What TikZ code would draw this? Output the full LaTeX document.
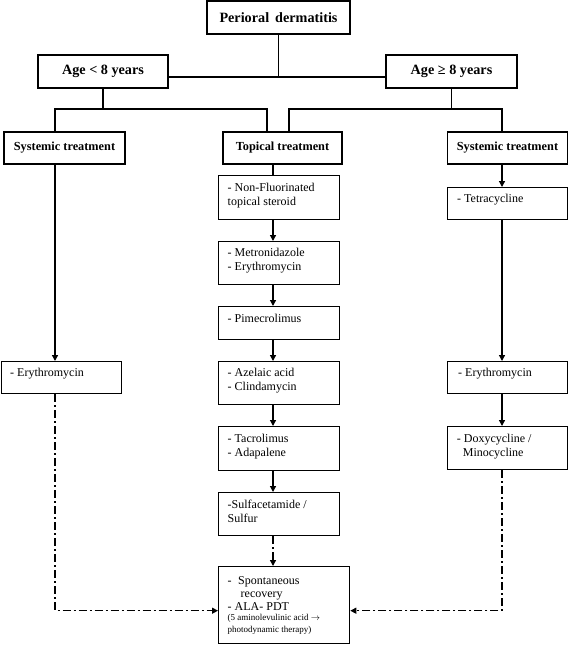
\documentclass[tikz,border=0pt]{standalone}
\usepackage{fontspec}
\setmainfont{Liberation Serif}
\usetikzlibrary{arrows.meta}
\begin{document}
\begin{tikzpicture}[x=1pt,y=-1pt,
  box/.style={draw, line width=1.3pt, inner sep=0pt},
  hbig/.style={box, font=\bfseries\fontsize{14.2}{16}\selectfont},
  hsm/.style={box, font=\bfseries\fontsize{12.3}{14}\selectfont},
  txt/.style={inner sep=0pt, align=left, anchor=base west, font=\fontsize{12}{14}\selectfont},
  tsmall/.style={inner sep=0pt, align=left, anchor=base west, font=\fontsize{9}{11.5}\selectfont},
  ln/.style={line width=1.3pt},
  arr/.style={ln, -{Triangle[length=6pt,width=6pt]}},
  dd/.style={arr, dash pattern=on 8pt off 3pt on 2pt off 3pt}]
\useasboundingbox (0,0) rectangle (568,645);
% header boxes
\node[hbig, minimum width=143pt, minimum height=33pt] (title) at (278.5,17.5) {Perioral\hspace{6pt}dermatitis};
\node[hbig, minimum width=130pt, minimum height=33pt] (age1) at (103,71.5) {Age < 8 years};
\node[hbig, minimum width=131pt, minimum height=33pt] (age2) at (451.5,71.5) {Age ≥ 8 years};
\node[hsm, minimum width=121pt, minimum height=32pt] (sysL) at (64.5,148) {Systemic treatment};
\node[hsm, minimum width=119pt, minimum height=32pt] (top) at (282.5,148) {Topical treatment};
\node[hsm, minimum width=120pt, minimum height=32pt] (sysR) at (507.5,148) {Systemic treatment};
% middle column boxes
\node[box, minimum width=121pt, minimum height=44pt, anchor=north west] (nf) at (218,175) {};
\node[box, minimum width=121pt, minimum height=43pt, anchor=north west] (met) at (218,241) {};
\node[box, minimum width=121pt, minimum height=33pt, anchor=north west] (pim) at (218,306) {};
\node[box, minimum width=121pt, minimum height=43pt, anchor=north west] (aze) at (218,361) {};
\node[box, minimum width=121pt, minimum height=44pt, anchor=north west] (tac) at (218,426) {};
\node[box, minimum width=121pt, minimum height=43pt, anchor=north west] (sul) at (218,492) {};
\node[box, minimum width=131pt, minimum height=77pt, anchor=north west] (fin) at (218,566) {};
% right column boxes
\node[box, minimum width=120pt, minimum height=32pt, anchor=north west] (tet) at (447,187) {};
\node[box, minimum width=120pt, minimum height=32pt, anchor=north west] (eryR) at (447,361) {};
\node[box, minimum width=120pt, minimum height=43pt, anchor=north west] (doxy) at (447,426) {};
% left column box
\node[box, minimum width=120pt, minimum height=32pt, anchor=north west] (eryL) at (1,361) {};
% texts (anchor = baseline of last line)
\node[txt] (nft) at (227.5,205.7) {- Non-Fluorinated\\topical steroid};
\node[txt] (mett) at (227.5,270.7) {- Metronidazole\\- Erythromycin};
\node[txt] (pimt) at (227.5,322.3) {- Pimecrolimus};
\node[txt] (azet) at (227.5,390.7) {- Azelaic acid\\- Clindamycin};
\node[txt] (tact) at (227.5,456.3) {- Tacrolimus\\- Adapalene};
\node[txt] (sult) at (227.5,522) {-Sulfacetamide /\\Sulfur};
\node[txt] (fint) at (227.5,610) {-\hspace{6.5pt}Spontaneous\\[-1pt]\hspace*{13pt}recovery\\[-1.5pt]- ALA- PDT};
\node[tsmall] (fins) at (227.5,632) {(5 aminolevulinic acid $\rightarrow$\\photodynamic therapy)};
\node[txt] (tett) at (457,202.3) {- Tetracycline};
\node[txt] (eryRt) at (458,376.7) {- Erythromycin};
\node[txt] (doxyt) at (456.7,456.3) {- Doxycycline /\\\hspace*{6pt}Minocycline};
\node[txt] (eryLt) at (10,376.7) {- Erythromycin};
% helper coordinates
\coordinate (j1) at (278.5,77);
\coordinate (bL1) at (55,109);
\coordinate (bL2) at (267,109);
\coordinate (bR1) at (289,109);
\coordinate (bR2) at (502,109);
\coordinate (colL) at (55,0);
\coordinate (colM) at (273,0);
\coordinate (colR) at (502,0);
\coordinate (yD) at (0,610.7);
% tree connectors
\draw[ln] (title.south) -- (j1);
\draw[ln] (age1.east |- j1) -- (age2.west |- j1);
\draw[ln] (age1.south) -- (age1.south |- bL1);
\draw[ln] (sysL.north -| bL1) -- (bL1) -- (bL2) -- (top.north -| bL2);
\draw[ln] (age2.south) -- (age2.south |- bR1);
\draw[ln] (top.north -| bR1) -- (bR1) -- (bR2) -- (sysR.north -| bR2);
% middle column
\draw[ln] (top.south -| colM) -- (nf.north -| colM);
\draw[arr] (nf.south -| colM) -- (met.north -| colM);
\draw[arr] (met.south -| colM) -- (pim.north -| colM);
\draw[arr] (pim.south -| colM) -- (aze.north -| colM);
\draw[arr] (aze.south -| colM) -- (tac.north -| colM);
\draw[arr] (tac.south -| colM) -- (sul.north -| colM);
\draw[dd] (sul.south -| colM) -- (fin.north -| colM);
% left column
\draw[arr] (sysL.south -| colL) -- (eryL.north -| colL);
\draw[dd] (eryL.south -| colL) |- (fin.west |- yD);
% right column
\draw[arr] (sysR.south -| colR) -- (tet.north -| colR);
\draw[arr] (tet.south -| colR) -- (eryR.north -| colR);
\draw[arr] (eryR.south -| colR) -- (doxy.north -| colR);
\draw[dd] (doxy.south -| colR) |- (fin.east |- yD);
\end{tikzpicture}
\end{document}
